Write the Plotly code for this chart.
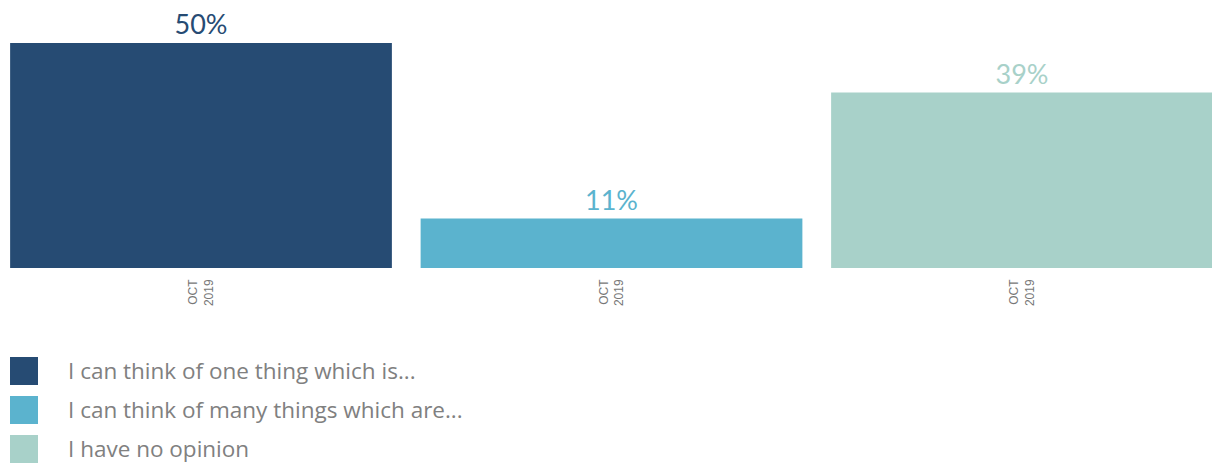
import plotly.graph_objects as go

# ---- data ----
categories = ["I can think of one thing which is...",
              "I can think of many things which are...",
              "I have no opinion"]
values = [50, 11, 39]
tick_labels = ["OCT<br>2019", "OCT<br>2019", "OCT<br>2019"]
colors = ["#264B73", "#5BB3CE", "#A8D1C9"]

W, H = 1212, 463
PLOT_BOTTOM = 268  # pixel row of the baseline

x_pos = list(range(len(values)))

fig = go.Figure()
fig.add_trace(go.Bar(
    x=x_pos, y=values, width=0.93,
    marker=dict(color=colors, line=dict(width=0)),
    texttemplate="%{y}%", textposition="outside",
    textfont=dict(family="Lato", size=27, color=colors),
    cliponaxis=False, showlegend=False, hoverinfo="skip",
))

# manual legend (large square swatches)
shapes, annotations = [], []
def py2paper(py):
    return (PLOT_BOTTOM - py) / PLOT_BOTTOM
for i, (lab, col) in enumerate(zip(categories, colors)):
    top = 357 + 39 * i
    shapes.append(dict(type="rect", xref="paper", yref="paper",
                       x0=10 / W, x1=38 / W, y0=py2paper(top + 28), y1=py2paper(top),
                       fillcolor=col, line=dict(width=0), layer="above"))
    annotations.append(dict(xref="paper", yref="paper", x=66 / W, y=py2paper(top + 13),
                            xanchor="left", yanchor="middle", text=lab, showarrow=False,
                            font=dict(family="Open Sans", size=22.5, color="#808080")))

px_per_unit = 410.5
fig.update_layout(
    width=W, height=H,
    margin=dict(l=0, r=0, t=0, b=H - PLOT_BOTTOM, pad=0),
    paper_bgcolor="white", plot_bgcolor="white",
    xaxis=dict(range=[-201 / px_per_unit, 2 + (W - 1022) / px_per_unit],
               tickvals=x_pos, ticktext=tick_labels, tickangle=-90,
               ticklabelstandoff=8,
               tickfont=dict(family="Liberation Sans", size=12, color="#777777"),
               showgrid=False, zeroline=False, showline=False, ticks=""),
    yaxis=dict(range=[0, PLOT_BOTTOM / 4.5], visible=False, showgrid=False),
    shapes=shapes, annotations=annotations,
    showlegend=False,
)

fig.write_html("out.html")
